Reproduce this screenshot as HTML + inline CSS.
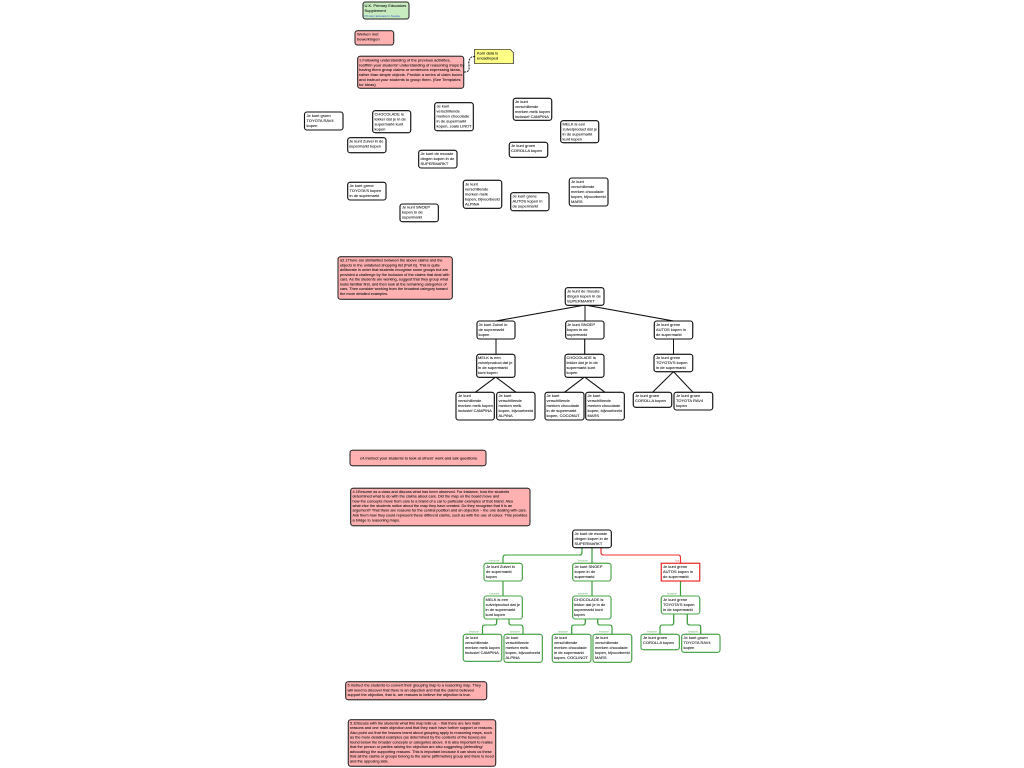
<!DOCTYPE html>
<html><head><meta charset="utf-8"><style>
html,body{margin:0;padding:0;background:#fff;width:1024px;height:768px;overflow:hidden}
svg{display:block}
text{font-family:"Liberation Sans",sans-serif;font-size:4px;fill:#111;stroke:#111;stroke-width:.07}
.s text{font-size:3.85px}
.n{fill:#fff;stroke:#111;stroke-width:1.1}
.r{fill:#ffb0b0;stroke:#222;stroke-width:1}
.g{fill:#fff;stroke:#46a546;stroke-width:1.1}
.l{stroke:#111;stroke-width:1;fill:none}
.e{stroke:#35a035;stroke-width:1.1;fill:none}
text.c{font-size:2.6px;fill:#6ab06a;stroke:none}
</style></head><body>
<svg width="1024" height="768" viewBox="0 0 1024 768" xmlns="http://www.w3.org/2000/svg">
<g style="filter:drop-shadow(.5px .5px .3px #888)">
<rect x="363" y="2" width="46" height="17" rx="2.5" fill="#c8ecc0" stroke="#222" stroke-width="1"/>
<rect class="r" x="355" y="30.7" width="38.7" height="14.3" rx="2.5"/>
<rect class="r" x="357.7" y="56.3" width="106" height="32" rx="2.5"/>
<path d="M474.7 49.3H510L513.3 52.5V63.7H474.7Z" fill="#ffff88" stroke="#222" stroke-width=".7"/>
<path d="M464 72C472 72 468 66 469 61C470 57 472 56.5 474.7 56.5" fill="none" stroke="#222" stroke-width="1" stroke-dasharray="2 1"/>
<rect class="n" x="304.5" y="112" width="38.5" height="18" rx="2.5"/>
<rect class="n" x="372.7" y="110.7" width="38" height="22" rx="2.5"/>
<rect class="n" x="434.7" y="102.7" width="38.6" height="28" rx="2.5"/>
<rect class="n" x="513.3" y="98.3" width="38.4" height="22" rx="2.5"/>
<rect class="n" x="560.7" y="120.7" width="38" height="22" rx="2.5"/>
<rect class="n" x="347.7" y="137.7" width="38.3" height="15" rx="2.5"/>
<rect class="n" x="509.3" y="142.3" width="38.4" height="15" rx="2.5"/>
<rect class="n" x="418.7" y="150.3" width="38.3" height="17.7" rx="2.5"/>
<rect class="n" x="347.7" y="182.3" width="38.3" height="17.7" rx="2.5"/>
<rect class="n" x="463.3" y="180.3" width="38.4" height="28" rx="2.5"/>
<rect class="n" x="510.7" y="192.7" width="38.3" height="18" rx="2.5"/>
<rect class="n" x="569.3" y="178" width="38.7" height="28" rx="2.5"/>
<rect class="n" x="400" y="204" width="38.3" height="17.7" rx="2.5"/>
<rect class="r" x="338" y="256.7" width="114.3" height="42.6" rx="2.5"/>
<path class="l" d="M585 305L496 321M585 305V321M585 305L673.5 321M496 339V354.3M584.7 339V354.3M673.5 339V354.3M495.7 377L475.3 392.3M495.7 377L516 392.3M584.5 377L564.5 392.3M584.5 377L605 392.3M673.5 371.7L652.5 392.3M673.5 371.7L693 392.3"/>
<rect class="n" x="565.3" y="287.7" width="38.7" height="17.6" rx="2.5"/>
<rect class="n" x="477" y="321" width="38" height="18" rx="2.5"/>
<rect class="n" x="565.7" y="321" width="38.3" height="18" rx="2.5"/>
<rect class="n" x="654.3" y="321" width="38.4" height="18" rx="2.5"/>
<rect class="n" x="476.7" y="354.3" width="38.3" height="23" rx="2.5"/>
<rect class="n" x="565" y="354.3" width="39" height="23" rx="2.5"/>
<rect class="n" x="654" y="354.3" width="38.7" height="17.4" rx="2.5"/>
<rect class="n" x="456" y="392.3" width="38.3" height="27.7" rx="2.5"/>
<rect class="n" x="496.7" y="392.3" width="38.3" height="27.7" rx="2.5"/>
<rect class="n" x="545" y="392.3" width="39" height="27.7" rx="2.5"/>
<rect class="n" x="585.7" y="392.3" width="38.6" height="27.7" rx="2.5"/>
<rect class="n" x="633.3" y="392.3" width="38.4" height="15" rx="2.5"/>
<rect class="n" x="674" y="392.3" width="38.7" height="17.7" rx="2.5"/>
<rect class="r" x="350" y="450.3" width="136" height="15.4" rx="2.5"/>
<rect class="r" x="350.7" y="488.3" width="179.3" height="37.4" rx="2.5"/>
<path class="e" d="M582 547.7V552.5Q582 555 579.5 555H505.5Q503 555 503 557.5V563.3M592 547.7V563.3M503 581V596M592 581V596M680.5 581V596M496.7 619V622.5Q496.7 625 494 625H485Q482.5 625 482.5 627.5V634.3M509 619V622.5Q509 625 511.5 625H520.5Q523 625 523 627.5V634.3M585.3 619V622.5Q585.3 625 582.8 625H574Q571.7 625 571.7 627.5V634.3M597.7 619V622.5Q597.7 625 600 625H609.5Q612 625 612 627.5V634.3M673.7 614V622.5Q673.7 625 671 625H662.5Q660 625 660 627.5V634.3M687.3 614V622.5Q687.3 625 690 625H698.2Q700.7 625 700.7 627.5V634.3"/>
<path d="M601 547.7V552.5Q601 555 603.5 555H678Q680.5 555 680.5 557.5V563.3" fill="none" stroke="#f03030" stroke-width="1.1"/>
<rect class="n" x="572.7" y="530" width="38.6" height="17.7" rx="2.5"/>
<rect class="g" x="484" y="563.3" width="38.3" height="17.7" rx="2.5"/>
<rect class="g" x="572.7" y="563.3" width="38.3" height="17.7" rx="2.5"/>
<rect x="661.3" y="563.3" width="38.4" height="17.7" fill="#fff" stroke="#f02020" stroke-width="1.1"/>
<rect class="g" x="484" y="596" width="38.3" height="23" rx="2.5"/>
<rect class="g" x="572.7" y="596" width="38.3" height="23" rx="2.5"/>
<rect class="g" x="661.3" y="596" width="38.4" height="18" rx="2.5"/>
<rect class="g" x="463.3" y="634.3" width="38.4" height="27" rx="2.5"/>
<rect class="g" x="504" y="634.3" width="38.3" height="28" rx="2.5"/>
<rect class="g" x="552.3" y="634.3" width="38.7" height="28" rx="2.5"/>
<rect class="g" x="593" y="634.3" width="38.7" height="28" rx="2.5"/>
<rect class="g" x="641" y="634.3" width="38.3" height="15.4" rx="2.5"/>
<rect class="g" x="681.7" y="634.3" width="38.3" height="18" rx="2.5"/>
<rect class="r" x="345.7" y="681.7" width="141" height="18" rx="2.5"/>
<rect class="r" x="348.3" y="719.7" width="147.4" height="46.6" rx="2.5"/>
</g>

<text x="364.5" y="7">U.K. Primary Educators</text><text x="364.5" y="12">Supplement</text>
<text x="364.5" y="17" style="font-size:3px;fill:#3a5ad0;stroke:none">Primary Educator's Supple</text>
<text x="357" y="35.5">Werken met</text><text x="357" y="40.5">bewerkingen</text>
<text x="477" y="54.5">Kom data is</text><text x="477" y="59.5">encadreped</text>
<g><text x="359" y="61.5">1.Following understanding of the previous activities,</text>
<text x="359" y="66.5">reaffirm your students' understanding of reasoning maps by</text>
<text x="359" y="71.2">having them group claims or sentences expressing ideas,</text>
<text x="359" y="76">rather than simple objects. Provide a series of claim boxes</text>
<text x="359" y="81">and instruct your students to group them. (See Templates</text>
<text x="359" y="86">for ideas)</text></g>

<text x="306.5" y="117">Je kunt groen</text><text x="306.5" y="122">TOYOTA RAV4</text><text x="306.5" y="127">kopen</text>
<text x="374.5" y="115.5">CHOCOLADE is</text><text x="374.5" y="120.5">lekker dat je in de</text><text x="374.5" y="125.5">supermarkt kunt</text><text x="374.5" y="130.5">kopen</text>
<text x="436.5" y="107.5">Je kunt</text><text x="436.5" y="112.5">verschillende</text><text x="436.5" y="117.5">merken chocolade</text><text x="436.5" y="122.5">in de supermarkt</text><text x="436.5" y="127.5">kopen, zoals LINDT</text>
<text x="515" y="103">Je kunt</text><text x="515" y="108">verschillende</text><text x="515" y="113">merken melk kopen</text><text x="515" y="118">inclusief CAMPINA</text>
<text x="562.5" y="125.5">MELK is een</text><text x="562.5" y="130.5">zuivelproduct dat je</text><text x="562.5" y="135.5">in de supermarkt</text><text x="562.5" y="140.5">kunt kopen</text>
<text x="349" y="142.5">Je kunt Zuivel in de</text><text x="349" y="147.5">supermarkt kopen</text>
<text x="511" y="147">Je kunt groen</text><text x="511" y="152">COROLLA kopen</text>
<text x="420.5" y="155">Je kunt de mooste</text><text x="420.5" y="160">dingen kopen in de</text><text x="420.5" y="165">SUPERMARKT</text>
<text x="349.5" y="187">Je kunt grene</text><text x="349.5" y="192">TOYOTA'S kopen</text><text x="349.5" y="197">in de supermarkt</text>
<text x="465" y="185.5">Je kunt</text><text x="465" y="190.5">verschillende</text><text x="465" y="195.5">merken melk</text><text x="465" y="200.5">kopen, bijvoorbeeld</text><text x="465" y="205.5">ALPINA</text>
<text x="512.5" y="197.5">Je kunt grene</text><text x="512.5" y="202.5">AUTOS kopen in</text><text x="512.5" y="207.5">de supermarkt</text>
<text x="571" y="183">Je kunt</text><text x="571" y="188">verschillende</text><text x="571" y="193">merken chocolade</text><text x="571" y="198">kopen, bijvoorbeeld</text><text x="571" y="203">MARS</text>
<text x="402" y="208.5">Je kunt SNOEP</text><text x="402" y="213.5">kopen in de</text><text x="402" y="218.5">supermarkt</text>

<g class="s"><text x="340" y="261.5">a2.1There are similarities between the above claims and the</text>
<text x="340" y="266.3">objects in the unlabeled shopping list (Part B). This is quite</text>
<text x="340" y="271">deliberate in order that students recognise some groups but are</text>
<text x="340" y="275.8">provided a challenge by the inclusion of the claims that deal with</text>
<text x="340" y="280.6">cars. As the students are working, suggest that they group what</text>
<text x="340" y="285.4">looks familiar first, and then look at the remaining categories of</text>
<text x="340" y="290.2">cars. Then consider working from the broadest category toward</text>
<text x="340" y="295">the more detailed examples.</text></g>

<text x="567" y="292.5">Je kunt de mooste</text><text x="567" y="297.5">dingen kopen in de</text><text x="567" y="302.5">SUPERMARKT</text>
<text x="478.5" y="326">Je kunt Zuivel in</text><text x="478.5" y="331">de supermarkt</text><text x="478.5" y="336">kopen</text>
<text x="567" y="326">Je kunt SNOEP</text><text x="567" y="331">kopen in de</text><text x="567" y="336">supermarkt</text>
<text x="656" y="326">Je kunt grene</text><text x="656" y="331">AUTOS kopen in</text><text x="656" y="336">de supermarkt</text>
<text x="478" y="359">MELK is een</text><text x="478" y="364">zuivelproduct dat je</text><text x="478" y="369">in de supermarkt</text><text x="478" y="374">kunt kopen</text>
<text x="566.5" y="359">CHOCOLADE is</text><text x="566.5" y="364">lekker dat je in de</text><text x="566.5" y="369">supermarkt kunt</text><text x="566.5" y="374">kopen</text>
<text x="656" y="359">Je kunt grene</text><text x="656" y="364">TOYOTA'S kopen</text><text x="656" y="369">in de supermarkt</text>
<text x="458" y="397">Je kunt</text><text x="458" y="402">verschillende</text><text x="458" y="407">merken melk kopen</text><text x="458" y="412">inclusief CAMPINA</text>
<text x="498.5" y="397">Je kunt</text><text x="498.5" y="402">verschillende</text><text x="498.5" y="407">merken melk</text><text x="498.5" y="412">kopen, bijvoorbeeld</text><text x="498.5" y="417">ALPINA</text>
<text x="546.5" y="397">Je kunt</text><text x="546.5" y="402">verschillende</text><text x="546.5" y="407">merken chocolade</text><text x="546.5" y="412">in de supermarkt</text><text x="546.5" y="417">kopen, COCONUT</text>
<text x="587.5" y="397">Je kunt</text><text x="587.5" y="402">verschillende</text><text x="587.5" y="407">merken chocolade</text><text x="587.5" y="412">kopen, bijvoorbeeld</text><text x="587.5" y="417">MARS</text>
<text x="635" y="397">Je kunt groen</text><text x="635" y="402">COROLLA kopen</text>
<text x="676" y="397">Je kunt groen</text><text x="676" y="402">TOYOTA RAV4</text><text x="676" y="407">kopen</text>

<text x="360" y="459.5">c4.Instruct your students to look at others' work and ask questions.</text>
<g class="s"><text x="352.5" y="493">4.1Resume as a class and discuss what has been observed. For instance, how the students</text>
<text x="352.5" y="497.7">determined what to do with the claims about cars. Did the map on the board move and</text>
<text x="352.5" y="502.4">how the concepts move from cars to a brand of a car to particular examples of that brand. Also</text>
<text x="352.5" y="507">what else the students notice about the map they have created. Do they recognise that it is an</text>
<text x="352.5" y="511.7">argument? That there are reasons for the central position and an objection – the one dealing with cars.</text>
<text x="352.5" y="516.4">Ask them how they could represent these different claims, such as with the use of colour. This provides</text>
<text x="352.5" y="521.5">a bridge to reasoning maps.</text></g>

<text x="574.5" y="535">Je kunt de mooste</text><text x="574.5" y="540">dingen kopen in de</text><text x="574.5" y="545">SUPERMARKT</text>
<text class="c" x="489.5" y="561.5">because</text><text class="c" x="578" y="561.5">because</text><text class="c" x="675.5" y="561.5" style="fill:#e05050">but</text>
<text x="486" y="568">Je kunt Zuivel in</text><text x="486" y="573">de supermarkt</text><text x="486" y="578">kopen</text>
<text x="574.5" y="568">Je kunt SNOEP</text><text x="574.5" y="573">kopen in de</text><text x="574.5" y="578">supermarkt</text>
<text x="663" y="568">Je kunt grene</text><text x="663" y="573">AUTOS kopen in</text><text x="663" y="578">de supermarkt</text>
<text class="c" x="489.5" y="594.5">because</text><text class="c" x="578" y="594.5">because</text><text class="c" x="667" y="594.5">because</text>
<text x="485.5" y="601">MELK is een</text><text x="485.5" y="606">zuivelproduct dat je</text><text x="485.5" y="611">in de supermarkt</text><text x="485.5" y="616">kunt kopen</text>
<text x="574" y="601">CHOCOLADE is</text><text x="574" y="606">lekker dat je in de</text><text x="574" y="611">supermarkt kunt</text><text x="574" y="616">kopen</text>
<text x="663" y="601">Je kunt grene</text><text x="663" y="606">TOYOTA'S kopen</text><text x="663" y="611">in de supermarkt</text>
<text class="c" x="469" y="632.5">because</text><text class="c" x="510" y="632.5">because</text><text class="c" x="558" y="632.5">because</text><text class="c" x="599" y="632.5">because</text><text class="c" x="647" y="632.5">because</text><text class="c" x="688" y="632.5">because</text>
<text x="465" y="639">Je kunt</text><text x="465" y="644">verschillende</text><text x="465" y="649">merken melk kopen</text><text x="465" y="654">inclusief CAMPINA</text>
<text x="505.5" y="639">Je kunt</text><text x="505.5" y="644">verschillende</text><text x="505.5" y="649">merken melk</text><text x="505.5" y="654">kopen, bijvoorbeeld</text><text x="505.5" y="659">ALPINA</text>
<text x="554" y="639">Je kunt</text><text x="554" y="644">verschillende</text><text x="554" y="649">merken chocolade</text><text x="554" y="654">in de supermarkt</text><text x="554" y="659">kopen, COCLINOT</text>
<text x="595" y="639">Je kunt</text><text x="595" y="644">verschillende</text><text x="595" y="649">merken chocolade</text><text x="595" y="654">kopen, bijvoorbeeld</text><text x="595" y="659">MARS</text>
<text x="643" y="639">Je kunt groen</text><text x="643" y="644">COROLLA kopen</text>
<text x="683.5" y="639">Je kunt groen</text><text x="683.5" y="644">TOYOTA RAV4</text><text x="683.5" y="649">kopen</text>

<g class="s"><text x="347.5" y="686.5">5.Instruct the students to convert their grouping map to a reasoning map. They</text>
<text x="347.5" y="691.3">will need to discover that there is an objection and that the claims believed</text>
<text x="347.5" y="696">support the objection, that is, are reasons to believe the objection is true.</text>
<text x="350" y="724.5">5.1Discuss with the students what this map tells us – that there are two main</text>
<text x="350" y="729.2">reasons and one main objection and that they each have further support or reasons.</text>
<text x="350" y="734">Also point out that the lessons learnt about grouping apply to reasoning maps, such</text>
<text x="350" y="738.7">as the more detailed examples (as determined by the contents of the boxes) are</text>
<text x="350" y="743.4">found below the broader concepts or categories above. It is also important to realise</text>
<text x="350" y="748.1">that the person or parties raising the objection are also suggesting (defending/</text>
<text x="350" y="752.8">advocating) the supporting reasons. This is important because it can show us these</text>
<text x="350" y="757.5">that all the claims or groups belong to the same (affirmative) group and there is need</text>
<text x="350" y="762.5">and the opposing side.</text></g>
</svg>
</body></html>
